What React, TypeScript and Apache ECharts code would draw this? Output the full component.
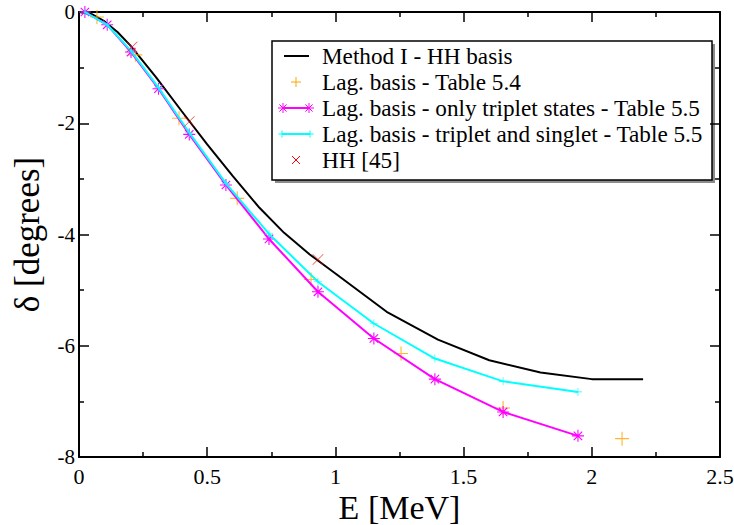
import React, { useEffect, useRef } from "react";
import * as echarts from "echarts";

// ---- data ----
const methodE = [0, 0.05, 0.1, 0.15, 0.2, 0.3, 0.4, 0.5, 0.6, 0.7, 0.8, 0.9, 1.0, 1.2, 1.4, 1.6, 1.8, 2.0, 2.2];
const methodDelta = [0, -0.04, -0.17, -0.36, -0.6, -1.17, -1.78, -2.38, -2.95, -3.5, -3.97, -4.36, -4.7, -5.39, -5.89, -6.26, -6.48, -6.6, -6.6];

const lagE = [0.07, 0.22, 0.39, 0.617, 0.905, 1.256, 1.654, 2.118];
const lagDelta = [-0.09, -0.77, -1.91, -3.35, -4.81, -6.14, -7.12, -7.67];

const tripE = [0.023, 0.11, 0.203, 0.31, 0.43, 0.573, 0.741, 0.932, 1.15, 1.388, 1.654, 1.946];
const tripDelta = [0, -0.23, -0.72, -1.38, -2.2, -3.11, -4.08, -5.03, -5.87, -6.6, -7.19, -7.62];

const tsE = [0.023, 0.11, 0.203, 0.31, 0.43, 0.573, 0.741, 0.932, 1.15, 1.388, 1.654, 1.946];
const tsDelta = [0, -0.23, -0.7, -1.36, -2.17, -3.08, -3.99, -4.85, -5.6, -6.23, -6.64, -6.83];

const hhE = [0.207, 0.43, 0.932];
const hhDelta = [-0.63, -1.97, -4.45];

const seriesNames = [
  "Method I - HH basis",
  "Lag. basis - Table 5.4",
  "Lag. basis - only triplet states - Table 5.5",
  "Lag. basis - triplet and singlet - Table 5.5",
  "HH [45]",
];
const seriesColors = ["#000000", "#ffa500", "#ff00ff", "#00ffff", "#ff0000"];

const xTickLabels = ["0", "0.5", "1", "1.5", "2", "2.5"];
const yTickLabels = ["-8", "-6", "-4", "-2", "0"];

// ---- symbol shapes ----
const PLUS = "path://M4.6,0H5.4V4.6H10V5.4H5.4V10H4.6V5.4H0V4.6H4.6Z";
const CROSS = "path://M0.4,0L10,9.6L9.6,10L0,0.4Z M9.6,0L10,0.4L0.4,10L0,9.6Z";
const STAR =
  "path://M0,4.55H10V5.45H0Z M4.55,0H5.45V10H4.55Z M1.82,1.18L8.82,8.18L8.18,8.82L1.18,1.82Z M8.18,1.18L8.82,1.82L1.82,8.82L1.18,8.18Z";

const zip = (xs: number[], ys: number[]) => xs.map((x, i) => [x, ys[i]]);

const FONT = "'Liberation Serif', 'Times New Roman', Times, serif";

// legend drawing helpers (graphic elements)
const seg = (x1: number, y1: number, x2: number, y2: number, stroke: string, lineWidth = 1) => ({
  type: "line",
  shape: { x1, y1, x2, y2 },
  style: { stroke, lineWidth },
  silent: true,
});
const plusMark = (cx: number, cy: number, r: number, c: string) => [
  seg(cx - r, cy, cx + r, cy, c),
  seg(cx, cy - r, cx, cy + r, c),
];
const crossMark = (cx: number, cy: number, r: number, c: string) => [
  seg(cx - r, cy - r, cx + r, cy + r, c),
  seg(cx - r, cy + r, cx + r, cy - r, c),
];
const starMark = (cx: number, cy: number, r: number, c: string) => [
  ...plusMark(cx, cy, r, c),
  ...crossMark(cx, cy, r * 0.72, c),
];

export default function App() {
  const ref = useRef<HTMLDivElement>(null);

  useEffect(() => {
    document.body.style.margin = "0";
    const chart = echarts.init(ref.current!, null, { renderer: "svg" });

    const axisCommon = {
      type: "value" as const,
      splitLine: { show: false },
      axisLine: { show: true, onZero: false, lineStyle: { color: "#000", width: 2 } },
      axisTick: { show: true, inside: true, length: 10, lineStyle: { color: "#000", width: 1.5 } },
      minorTick: { show: true, splitNumber: 2, length: 5, lineStyle: { color: "#000", width: 1.5 } },
      minorSplitLine: { show: false },
    };

    // legend layout
    const LX = 272, LY = 41, LW = 440, LH = 139;
    const rowY = [56, 82, 108, 134, 160];
    const textX = 322;
    const legendEls: any[] = [
      { type: "rect", shape: { x: LX + 3, y: LY + 3, width: LW, height: LH }, style: { fill: "#8c8c8c" }, silent: true },
      { type: "rect", shape: { x: LX, y: LY, width: LW, height: LH }, style: { fill: "#fff", stroke: "#000", lineWidth: 1.5 }, silent: true },
      seg(284, rowY[0], 309, rowY[0], seriesColors[0], 2),
      ...plusMark(296, rowY[1], 5, seriesColors[1]),
      seg(283, rowY[2], 309, rowY[2], seriesColors[2], 2),
      ...starMark(283, rowY[2], 5, seriesColors[2]),
      ...starMark(309, rowY[2], 5, seriesColors[2]),
      seg(282, rowY[3], 310, rowY[3], seriesColors[3], 2),
      ...plusMark(282, rowY[3], 3.5, seriesColors[3]),
      ...plusMark(310, rowY[3], 3.5, seriesColors[3]),
      ...crossMark(296, rowY[4], 4, seriesColors[4]),
      ...seriesNames.map((n, i) => ({
        type: "text",
        x: textX,
        y: rowY[i],
        style: { text: n, fontFamily: FONT, fontSize: 23.2, fill: "#000", verticalAlign: "middle", align: "left" },
        silent: true,
      })),
    ];

    chart.setOption({
      animation: false,
      backgroundColor: "#fff",
      grid: { left: 79, right: 14, top: 12, bottom: 68, containLabel: false, outerBoundsMode: "none" },
      xAxis: [
        {
          ...axisCommon,
          position: "bottom",
          min: 0,
          max: 2.5,
          interval: 0.5,
          name: "E [MeV]",
          nameLocation: "middle",
          nameGap: 33,
          nameMoveOverlap: false,
          nameTextStyle: { fontFamily: FONT, fontSize: 34, lineHeight: 34, color: "#000" },
          axisLabel: {
            fontFamily: FONT,
            fontSize: 22,
            color: "#000",
            margin: 8,
            formatter: (v: number) => xTickLabels[Math.round(v / 0.5)] ?? "",
          },
        },
        {
          ...axisCommon,
          position: "top",
          min: 0,
          max: 2.5,
          interval: 0.5,
          axisLabel: { show: false },
        },
      ],
      yAxis: [
        {
          ...axisCommon,
          position: "left",
          min: -8,
          max: 0,
          interval: 2,
          name: "δ [degrees]",
          nameLocation: "middle",
          nameGap: 34,
          nameMoveOverlap: false,
          nameTextStyle: { fontFamily: FONT, fontSize: 35, color: "#000" },
          axisLabel: {
            fontFamily: FONT,
            fontSize: 21,
            lineHeight: 20,
            color: "#000",
            margin: 4,
            formatter: (v: number) => yTickLabels[Math.round((v + 8) / 2)] ?? "",
          },
        },
        {
          ...axisCommon,
          position: "right",
          min: -8,
          max: 0,
          interval: 2,
          axisLabel: { show: false },
        },
      ],
      graphic: { elements: legendEls },
      series: [
        {
          name: seriesNames[0],
          type: "line",
          data: zip(methodE, methodDelta),
          showSymbol: false,
          symbol: "none",
          lineStyle: { color: seriesColors[0], width: 2 },
          itemStyle: { color: seriesColors[0] },
          z: 2,
        },
        {
          name: seriesNames[1],
          type: "scatter",
          data: zip(lagE, lagDelta),
          symbol: PLUS,
          symbolSize: 14,
          itemStyle: { color: seriesColors[1] },
          z: 3,
        },
        {
          name: seriesNames[2],
          type: "line",
          data: zip(tripE, tripDelta),
          symbol: STAR,
          symbolSize: 12,
          showSymbol: true,
          lineStyle: { color: seriesColors[2], width: 2 },
          itemStyle: { color: seriesColors[2] },
          z: 4,
        },
        {
          name: seriesNames[3],
          type: "line",
          data: zip(tsE, tsDelta),
          symbol: PLUS,
          symbolSize: 8,
          showSymbol: true,
          lineStyle: { color: seriesColors[3], width: 2 },
          itemStyle: { color: seriesColors[3] },
          z: 5,
        },
        {
          name: seriesNames[4],
          type: "scatter",
          data: zip(hhE, hhDelta),
          symbol: CROSS,
          symbolSize: 11,
          itemStyle: { color: seriesColors[4] },
          z: 6,
        },
      ],
    });

    return () => chart.dispose();
  }, []);

  return (
    <div
      ref={ref}
      style={{ position: "fixed", left: 0, top: 0, width: 734, height: 525 }}
    />
  );
}
